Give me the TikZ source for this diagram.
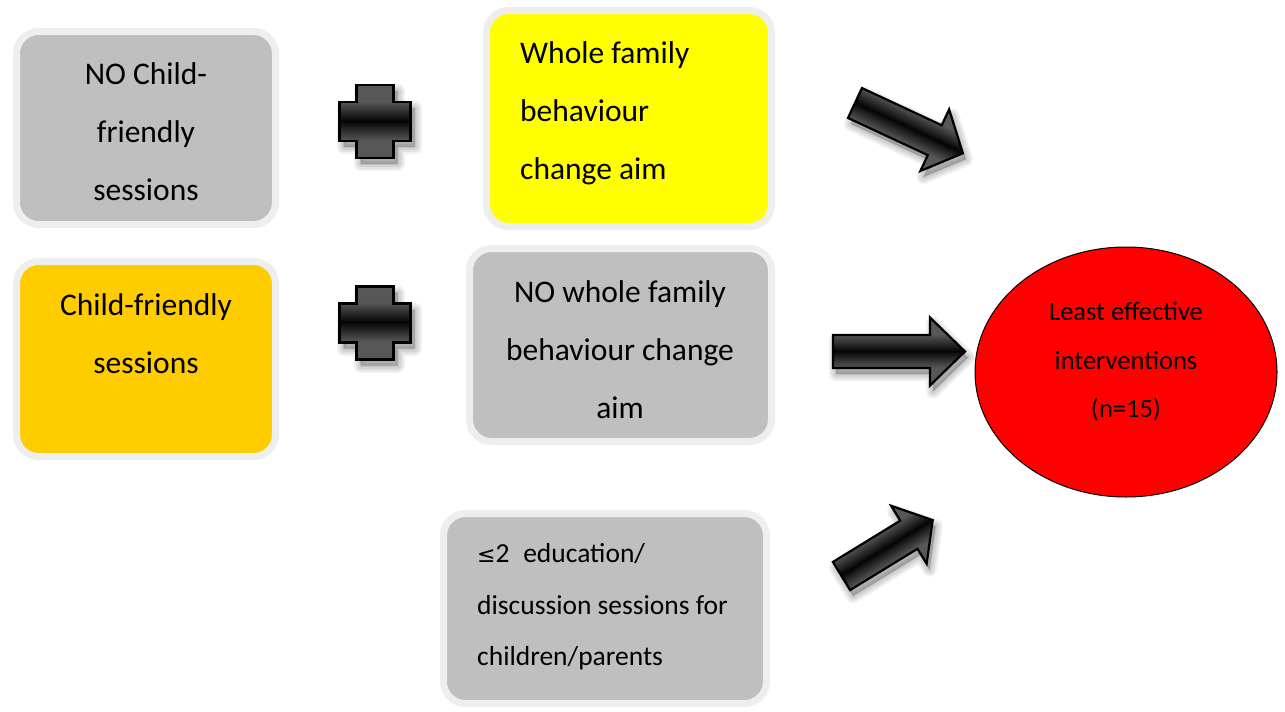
\documentclass[tikz,border=0pt]{standalone}
\usepackage{fontspec}
\setmainfont{Carlito}
\usetikzlibrary{shapes.geometric,calc,backgrounds}

\definecolor{boxgray}{HTML}{BFBFBF}
\definecolor{framegray}{HTML}{EEEEEE}
\definecolor{amber}{HTML}{FFCC00}
\definecolor{lemon}{HTML}{FFFF00}
\definecolor{shblue}{HTML}{5F86A0}
\definecolor{shgreen}{HTML}{6F7C48}
\definecolor{shpeach}{HTML}{E0904E}

\tikzset{
  card/.style={draw=framegray, line width=7pt, rounded corners=22pt, inner sep=0pt},
  cardtext/.style={font=\fontsize{31.5}{58}\selectfont, inner sep=0pt},
  smalltext/.style={font=\fontsize{27.5}{51.5}\selectfont, inner sep=0pt, align=left},
  ovaltext/.style={font=\fontsize{26.5}{48.5}\selectfont, inner sep=0pt, align=center, text=black},
  outline/.style={draw=black, line width=2.2pt, line join=miter},
}

% glossy fill: grey bands across the shape, black along its middle line
% #1 outline path, #2 half height of the dark band, #3 outer half extent
\newcommand\glossyshape[3]{%
  \begin{scope}
    \clip #1;
    \foreach \k in {-#3,...,#3} {%
      \pgfmathsetmacro\g{0.02+0.32*min(1,abs(\k)/#2)}%
      \definecolor{tone}{gray}{\g}%
      \fill[tone] (-60,\k-0.9) rectangle (180,\k+0.9);
    }
  \end{scope}
  \draw[outline] #1;
}

% soft drop shadow of a path, offset down and right
\newcommand\softshadow[1]{%
  \foreach \w in {14,10,6,2}
    \filldraw[black, opacity=0.06, line width=\w pt, line join=round] #1;
}

% block arrow: tail centre (#1,#2), angle #3, length #4, head length #5
\newcommand\blockarrow[5]{%
  \def\arrowpath{(0,-16.5) -- ({#4-#5},-16.5) -- ({#4-#5},-34) -- (#4,0)
    -- ({#4-#5},34) -- ({#4-#5},16.5) -- (0,16.5) -- cycle}%
  \begin{scope}[shift={(3,6)}]
    \begin{scope}[shift={(#1,#2)}, rotate=#3]
      \softshadow{\arrowpath}
    \end{scope}
  \end{scope}
  \begin{scope}[shift={(#1,#2)}, rotate=#3]
    \glossyshape{\arrowpath}{16.5}{35}
  \end{scope}
}

% plus sign centred at (#1,#2)
\newcommand\plussign[2]{%
  \def\pluspath{(-18.5,-36.5) -- (18.5,-36.5) -- (18.5,-19.5) -- (35.5,-19.5)
    -- (35.5,19.5) -- (18.5,19.5) -- (18.5,36.5) -- (-18.5,36.5) -- (-18.5,19.5)
    -- (-35.5,19.5) -- (-35.5,-19.5) -- (-18.5,-19.5) -- cycle}%
  \begin{scope}[shift={(#1,#2)}]
    \begin{scope}[shift={(4,6)}]
      \softshadow{\pluspath}
    \end{scope}
    \glossyshape{\pluspath}{19.5}{37}
  \end{scope}
}

\begin{document}
\begin{tikzpicture}[x=1pt, y=-1pt]
  \useasboundingbox (0,0) rectangle (1285,712);
  \fill[white] (0,0) rectangle (1285,712);

  % cards
  \node[card, fill=boxgray, minimum width=259pt, minimum height=193pt] (nochild) at (146,128) {};
  \node[card, fill=amber,   minimum width=259pt, minimum height=195pt] (child)   at (146,359) {};
  \node[card, fill=lemon,   minimum width=285pt, minimum height=216pt] (whole)   at (629,118.5) {};
  \node[card, fill=boxgray, minimum width=302pt, minimum height=193pt] (nowhole) at (620.5,345) {};
  \node[card, fill=boxgray, minimum width=323pt, minimum height=190pt] (sessions) at (605,608.5) {};

  % coloured shadows behind the cards
  \begin{pgfonlayer}{background}
    \foreach \nm/\sc in {nochild/shblue, child/shblue, whole/shgreen, nowhole/shgreen, sessions/shpeach} {
      \foreach \w in {12,8,4,1}
        \filldraw[\sc, opacity=0.11, line width=\w pt, rounded corners=24pt]
          ($(\nm.north west)+(2,5)$) rectangle ($(\nm.south east)+(2,5)$);
    }
  \end{pgfonlayer}

  % card texts
  \node[cardtext, align=center] (t-nochild) at (146,132) {NO Child-\\friendly\\sessions};
  \node[cardtext, align=center] (t-child) at (146,334) {Child-friendly\\sessions};
  \node[cardtext, align=left, anchor=west] (t-whole) at (520,113) {Whole family\\behaviour\\change aim};
  \node[cardtext, align=center] (t-nowhole) at (620,350) {NO whole family\\behaviour change\\aim};
  \node[smalltext, anchor=west] (t-sessions) at (477,607)
    {{\fontspec{DejaVu Sans}\fontsize{22}{51.5}\selectfont ≤}2\enspace education/\\discussion sessions for\\children/parents};

  % outcome
  \node[ellipse, draw=black, line width=1pt, fill=red, minimum width=302pt, minimum height=250pt,
        inner sep=0pt] (outcome) at (1126,372) {};
  \node[ovaltext] (t-outcome) at (1126,362) {Least effective\\interventions\\(n=15)};

  % plus signs
  \plussign{375}{121.5}
  \plussign{375}{323}

  % block arrows towards the outcome
  \blockarrow{855}{103}{-25}{119}{31}
  \blockarrow{833}{351.5}{0}{132}{35}
  \blockarrow{841.5}{576}{31.5}{107}{28}
\end{tikzpicture}
\end{document}
